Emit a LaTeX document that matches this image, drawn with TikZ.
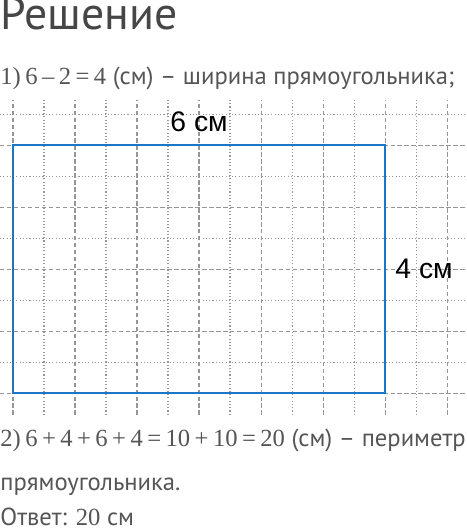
\documentclass[tikz,border=0pt]{standalone}
\usepackage{fontspec}
\setmainfont{PT Sans}
\newfontfamily\numfont{Liberation Serif}
\newfontfamily\labelfont{Liberation Sans}
\usetikzlibrary{positioning}
\definecolor{rectblue}{RGB}{28,118,198}
\definecolor{gridgray}{RGB}{150,150,150}
\definecolor{textgray}{RGB}{85,85,85}
\definecolor{titlegray}{RGB}{70,70,70}
\newcommand{\nm}[1]{{\numfont\spaceskip=0.18em #1}}

\begin{document}
\begin{tikzpicture}[
  solution/.style={anchor=base west, inner sep=0pt, text=textgray, font=\fontsize{11.3}{13}\selectfont},
  sidelabel/.style={inner sep=0pt, text=black, font=\labelfont\fontsize{13}{15}\selectfont},
  gridmajor/.style={gridgray, line width=0.5pt, dash pattern=on 2pt off 1.2pt},
  gridminor/.style={gridgray, line width=0.5pt, dash pattern=on 0.5pt off 1pt}
]
\useasboundingbox (-0.21,-2.24) rectangle (7.32,6.34);

%grid
\foreach \y in {0,1,...,4}
  \draw[gridmajor] (-0.21,\y) -- (7.32,\y);
\foreach \y in {0.5,1.5,...,4.5}
  \draw[gridminor] (-0.21,\y) -- (7.32,\y);
\foreach \x in {0,1,...,7}
  \draw[gridmajor] (\x,-0.35) -- (\x,4.73);
\foreach \x in {0.5,1.5,...,6.5}
  \draw[gridminor] (\x,-0.35) -- (\x,4.73);

%rectangle
\coordinate (sw) at (0,0);
\coordinate (ne) at (6,4);
\draw[rectblue, line width=1.2pt] (sw) rectangle (ne);
\node[sidelabel, above=0.2cm] (width) at (3,4) {6 см};
\node[sidelabel, right=0.16cm] (height) at (6,2) {4 см};

%text
\node[solution, text=titlegray, font=\fontsize{21}{24}\selectfont] (title) at (-0.21,5.86) {Решение};
\node[solution] (step1) at (-0.21,4.98) {\nm{1) 6 – 2 = 4} (см) – ширина прямоугольника;};
\node[solution] (step2) at (-0.21,-0.855) {\nm{2) 6 + 4 + 6 + 4 = 10 + 10 = 20} (см) – периметр};
\node[solution] (step2b) at (-0.21,-1.565) {прямоугольника.};
\node[solution] (answer) at (-0.21,-2.14) {Ответ: \nm{20} см};
\end{tikzpicture}
\end{document}
